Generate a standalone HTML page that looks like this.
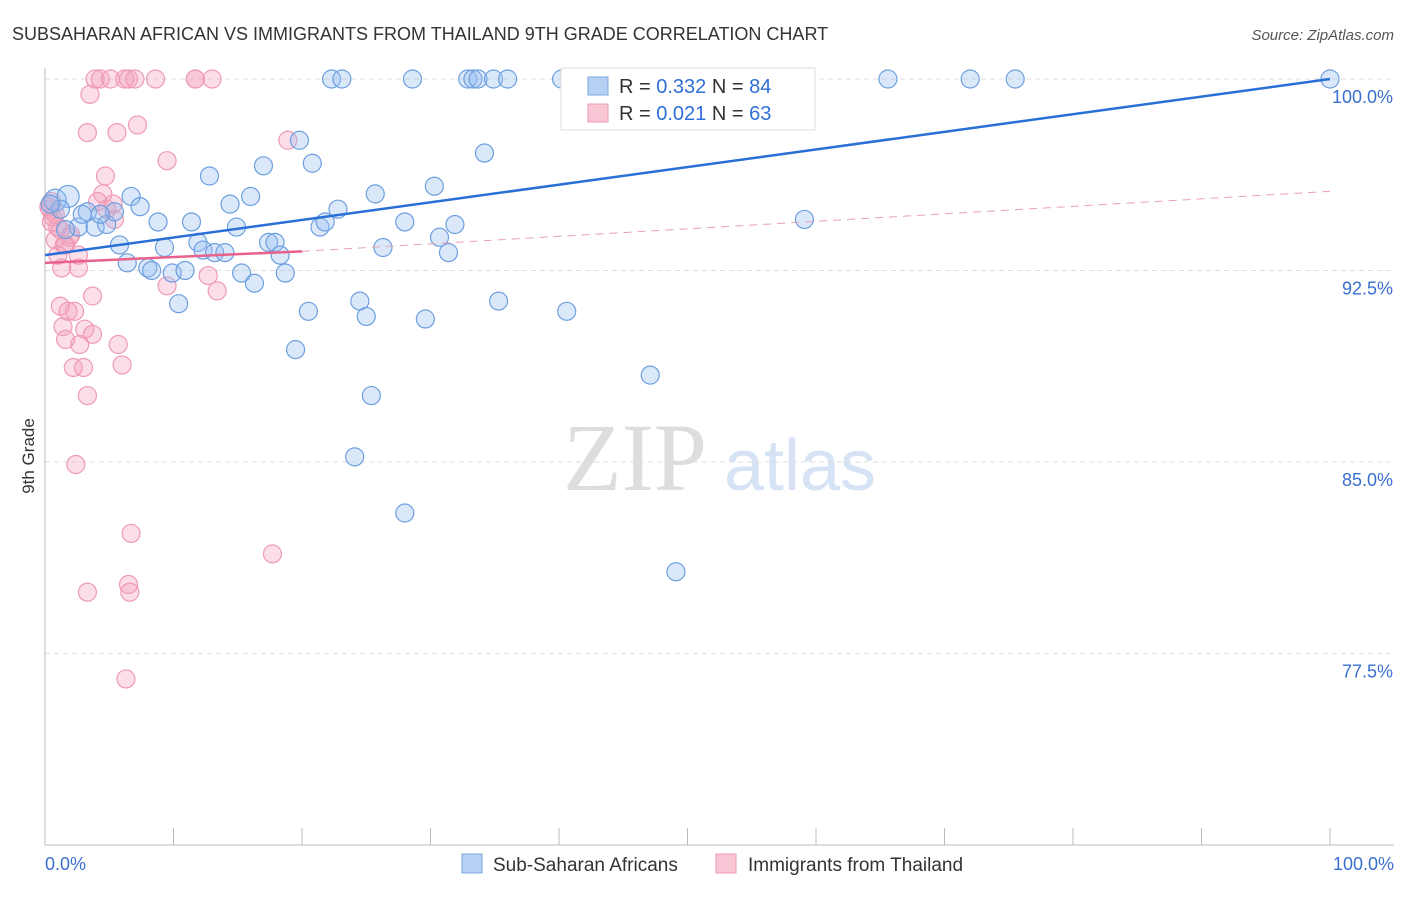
<!DOCTYPE html>
<html><head><meta charset="utf-8"><style>
body{margin:0;background:#fff;font-family:"Liberation Sans",sans-serif;}
svg text{font-family:"Liberation Sans",sans-serif;}
</style></head><body>
<svg id="chart" width="1406" height="892">
<text x="12" y="40" font-size="18" fill="#333">SUBSAHARAN AFRICAN VS IMMIGRANTS FROM THAILAND 9TH GRADE CORRELATION CHART</text>
<text x="1394" y="40" font-size="15" fill="#555" text-anchor="end" font-style="italic">Source: ZipAtlas.com</text>
<text x="34" y="456" font-size="17" fill="#333" text-anchor="middle" transform="rotate(-90 34 456)">9th Grade</text>
<g><text x="635" y="490" font-size="96" fill="#ddd" text-anchor="middle" font-family="Liberation Serif" style="font-family:'Liberation Serif',serif">ZIP</text><text x="800" y="490" font-size="72" fill="#d6e3f5" text-anchor="middle">atlas</text></g>
<g id="grid"></g><g id="axes"></g><g id="pts"></g><g id="lines"></g>
<g>
<rect x="561" y="68" width="254" height="62" fill="#fff" stroke="#ddd"/>
<rect x="588" y="77" width="20" height="18" fill="#b5d0f2" stroke="#7aa7e0"/>
<text x="619" y="93" font-size="20" fill="#333">R = <tspan fill="#2f6fd6">0.332</tspan>   N = <tspan fill="#2f6fd6">84</tspan></text>
<rect x="588" y="104" width="20" height="18" fill="#f8c6d4" stroke="#ec9ab2"/>
<text x="619" y="120" font-size="20" fill="#333">R = <tspan fill="#2f6fd6">0.021</tspan>   N = <tspan fill="#2f6fd6">63</tspan></text>
</g>
<g>
<rect x="462" y="854" width="20" height="19" fill="#b5d0f2" stroke="#7aa7e0"/>
<text x="493" y="871" font-size="19" fill="#333">Sub-Saharan Africans</text>
<rect x="716" y="854" width="20" height="19" fill="#f8c6d4" stroke="#ec9ab2"/>
<text x="748" y="871" font-size="19" fill="#333">Immigrants from Thailand</text>
</g>
</svg>
<script>
const blueX=[0.8,1.8,1.2,2.6,3.9,3.3,4.8,5.4,5.8,6.4,6.7,7.4,8.0,8.3,8.8,9.3,9.9,10.4,10.9,11.4,11.9,12.3,12.8,13.2,14.0,14.4,14.9,15.3,16.0,16.3,17.0,17.4,17.9,18.3,18.7,19.5,19.8,20.5,20.8,21.4,21.8,22.3,22.8,23.1,24.1,24.5,25.0,25.4,25.7,26.3,28.0,28.0,28.6,29.6,30.3,30.7,31.4,31.9,32.9,33.3,33.7,34.2,34.9,35.3,36.0,40.2,40.6,41.6,42.4,47.1,49.1,52.4,55.6,59.1,65.6,72.0,75.5,100,43.2,46.3,2.9,4.3,0.4,1.6];
const blueY=[95.25,95.4,94.9,94.2,94.2,94.8,94.3,94.8,93.5,92.8,95.4,95.0,92.6,92.5,94.4,93.4,92.4,91.2,92.5,94.4,93.6,93.3,96.2,93.2,93.2,95.1,94.2,92.4,95.4,92.0,96.6,93.6,93.6,93.1,92.4,89.4,97.6,90.9,96.7,94.2,94.4,100,94.9,100,85.2,91.3,90.7,87.6,95.5,93.4,83.0,94.4,100,90.6,95.8,93.8,93.2,94.3,100,100,100,97.1,100,91.3,100,100,90.9,99.1,100,88.4,80.7,100,99.0,94.5,100,100,100,100,100,100,94.7,94.7,95.1,94.1];
const pinkX=[3.9,4.3,5.1,6.2,6.5,7.0,8.6,11.7,13.0,3.5,3.3,5.6,7.2,9.5,4.7,4.5,4.1,5.3,5.4,18.9,0.4,0.8,0.5,1.2,0.8,1.6,1.9,1.0,1.3,2.6,2.6,3.7,1.2,1.8,2.3,1.4,3.1,3.7,1.6,2.7,5.7,2.2,3.0,6.0,3.3,9.5,12.7,13.4,2.4,6.7,17.7,6.5,6.6,3.3,6.3,0.3,0.6,1.0,2.0,11.7,0.5,1.5,4.8];
const pinkY=[100,100,100,100,100,100,100,100,100,99.4,97.9,97.9,98.2,96.8,96.2,95.5,95.2,95.1,94.5,97.6,94.9,94.7,94.4,94.1,93.7,93.5,93.8,93.1,92.6,92.6,93.1,91.5,91.1,90.9,90.9,90.3,90.2,90.0,89.8,89.6,89.6,88.7,88.7,88.8,87.6,91.9,92.3,91.7,84.9,82.2,81.4,80.2,79.9,79.9,76.5,95.0,94.6,94.2,93.9,100,95.2,93.5,94.9];
const blueTrend=[93.1,100];
const pinkTrend=[92.8,93.25,95.6];
const yTicks=[100,92.5,85,77.5];
const yTickLabels=["100.0%","92.5%","85.0%","77.5%"];
const xScale=v=>45+v*12.85;
const yScale=v=>79+(100-v)*25.53;
const NS="http://www.w3.org/2000/svg";
function mk(tag,attrs,parent){const e=document.createElementNS(NS,tag);for(const k in attrs)e.setAttribute(k,attrs[k]);document.getElementById(parent).appendChild(e);return e;}
yTicks.forEach((t,i)=>{
 const l=mk('line',{x1:45,x2:1394,y1:yScale(t),y2:yScale(t),stroke:'#ddd','stroke-dasharray':'5,4'},'grid');
 
 
 const tx=mk('text',{x:1393,y:yScale(t)+24,'font-size':18,fill:'#3a6fd0','text-anchor':'end'},'grid');
 tx.textContent=yTickLabels[i];
 
 
});
let a=mk('line',{x1:45,x2:45,y1:68,y2:845,stroke:'#bbb'},'axes');


a=mk('line',{x1:45,x2:1394,y1:845,y2:845,stroke:'#bbb'},'axes');


for(let i=0;i<=10;i++){const t=mk('line',{x1:xScale(i*10),x2:xScale(i*10),y1:828,y2:845,stroke:'#bbb'},'axes');
 
 }
let xl=mk('text',{x:45,y:870,'font-size':18,fill:'#3a6fd0'},'axes');xl.textContent='0.0%';


xl=mk('text',{x:1394,y:870,'font-size':18,fill:'#3a6fd0','text-anchor':'end'},'axes');xl.textContent='100.0%';


pinkX.forEach((x,i)=>{const c=mk('circle',{cx:xScale(x),cy:yScale(pinkY[i]),r:9,fill:'rgba(244,160,185,0.35)',stroke:'#ef9ab4','stroke-width':1.2},'pts');
 
 });
blueX.forEach((x,i)=>{const c=mk('circle',{cx:xScale(x),cy:yScale(blueY[i]),r:i<2?11:9,fill:'rgba(150,190,240,0.35)',stroke:'#6d9fe0','stroke-width':1.2},'pts');
 
 });
let ln=mk('line',{x1:xScale(0),y1:yScale(blueTrend[0]),x2:xScale(100),y2:yScale(blueTrend[1]),stroke:'#2a6fd6','stroke-width':2.5},'lines');


ln=mk('line',{x1:xScale(0),y1:yScale(pinkTrend[0]),x2:xScale(20),y2:yScale(pinkTrend[1]),stroke:'#e8628c','stroke-width':2.5},'lines');


ln=mk('line',{x1:xScale(20),y1:yScale(pinkTrend[1]),x2:xScale(100),y2:yScale(pinkTrend[2]),stroke:'#e8a0b5','stroke-width':1,'stroke-dasharray':'8,6'},'lines');


</script>
</body></html>
